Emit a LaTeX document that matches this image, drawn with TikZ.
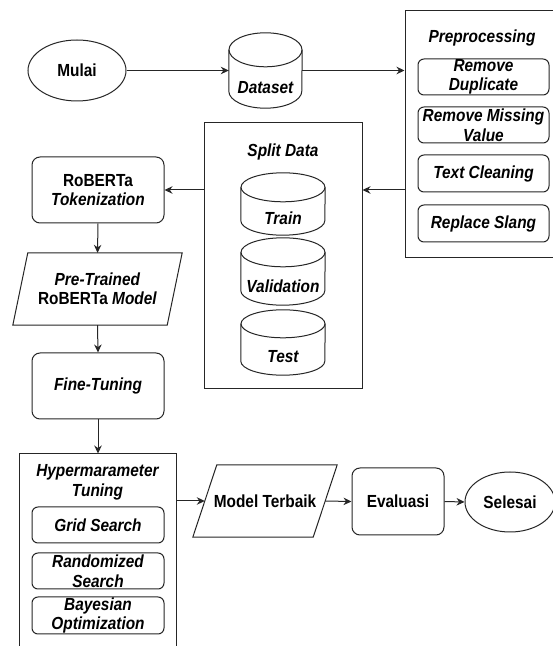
\documentclass[tikz,border=0pt]{standalone}
\usepackage{fontspec}
\setmainfont{Liberation Sans}[FakeStretch=0.88]
\usetikzlibrary{shapes.geometric,arrows.meta,calc}
\tikzset{
  ln/.style={draw=black!85, line width=1pt},
  arr/.style={draw=black!85, line width=1pt, -{Stealth[length=8pt,width=7.5pt]}},
  txt/.style={font=\fontsize{17.5}{19.5}\selectfont\bfseries, align=center, inner sep=0pt},
  itxt/.style={txt, font=\fontsize{17.5}{19.5}\selectfont\bfseries\itshape},
  rbox/.style={ln, rounded corners=8pt, txt},
  sbox/.style={ln, rounded corners=6pt, itxt},
  frame/.style={ln, inner sep=0pt},
}
\newcommand\mkcyl[7]{%
  \node[minimum width=#4pt, minimum height=#5pt, inner sep=0pt] (#1) at (#2,646-#3) {};
  \draw[ln] ([yshift=-#6pt]#1.north west) -- ([yshift=#6pt]#1.south west)
     arc[start angle=180, end angle=360, x radius=#4pt/2, y radius=#6pt]
     -- ([yshift=-#6pt]#1.north east);
  \draw[ln] ([yshift=-#6pt]#1.north) ellipse[x radius=#4pt/2, y radius=#6pt];
  \node[itxt] (#1-t) at ([yshift=-#6pt]#1.center) {#7};
}
\begin{document}
\begin{tikzpicture}[x=1pt,y=1pt]
\useasboundingbox (0,0) rectangle (553,646);
\clip (0,0) rectangle (553,646);
\fill[white] (0,0) rectangle (553,646);

% start
\node[ln, ellipse, txt, minimum width=98pt, minimum height=61pt] (mulai) at (77,646-70.5) {Mulai};

% dataset
\mkcyl{ds}{265.5}{70.5}{73}{75}{17}{Dataset}

% preprocessing
\node[frame, minimum width=152pt, minimum height=247pt] (pre) at (481,646-134.5) {};
\node[itxt] (pre-t) at (482,646-38) {Preprocessing};
\node[sbox, minimum width=131pt, minimum height=36pt] (rd) at (483.5,646-77) {Remove\\Duplicate};
\node[sbox, minimum width=131pt, minimum height=36pt] (rm) at (483.5,646-125) {Remove Missing\\Value};
\node[sbox, minimum width=131pt, minimum height=37pt] (tc) at (483.5,646-173.5) {Text Cleaning};
\node[sbox, minimum width=131pt, minimum height=37pt] (rs) at (483.5,646-223.5) {Replace Slang};

% split data
\node[frame, minimum width=158pt, minimum height=266pt] (split) at (283,646-256) {};
\node[itxt] (split-t) at (283,646-152) {Split Data};
\mkcyl{tr}{283}{204}{84}{62}{14.5}{Train}
\mkcyl{va}{283}{271.5}{84}{67}{14.5}{Validation}
\mkcyl{te}{283}{342.5}{84}{65}{14}{Test}

% left column
\node[rbox, minimum width=132pt, minimum height=66pt] (rob) at (98,646-190) {RoBERTa\\\textit{Tokenization}};
\node[txt, minimum width=169pt, minimum height=72pt] (ptm) at (97.5,646-289) {\textit{Pre-Trained}\\RoBERTa \textit{Model}};
\draw[ln] ([xshift=15pt]ptm.north west) -- (ptm.north east) -- ([xshift=-15pt]ptm.south east) -- (ptm.south west) -- cycle;
\node[rbox, itxt, minimum width=132pt, minimum height=66pt] (ft) at (98,646-386) {Fine-Tuning};

% hyperparameter tuning
\node[frame, minimum width=157pt, minimum height=246pt] (hyp) at (97.5,646-577) {};
\node[itxt] (hyp-t) at (97.5,646-482.5) {Hypermarameter\\Tuning};
\node[sbox, minimum width=132pt, minimum height=36pt] (gs) at (98,646-525) {Grid Search};
\node[sbox, minimum width=132pt, minimum height=36pt] (rsr) at (98,646-571) {Randomized\\Search};
\node[sbox, minimum width=132pt, minimum height=37pt] (bo) at (98,646-615.5) {Bayesian\\Optimization};

% bottom row
\node[txt, minimum width=144pt, minimum height=72pt] (mt) at (265,646-501) {Model Terbaik};
\draw[ln] ([xshift=24pt]mt.north west) -- (mt.north east) -- ([xshift=-24pt]mt.south east) -- (mt.south west) -- cycle;
\coordinate (mtL) at ([xshift=12pt]mt.west);
\coordinate (mtR) at ([xshift=-12pt]mt.east);
\node[rbox, minimum width=92pt, minimum height=67pt] (ev) at (398,646-501.5) {Evaluasi};
\node[ln, ellipse, txt, minimum width=90pt, minimum height=60pt] (sel) at (510,646-502) {Selesai};

% connectors
\draw[arr] (mulai.east) -- (ds.west);
\draw[arr] (ds.east) -- (pre.west |- ds.east);
\draw[arr] (pre.west |- rob.east) -- (split.east |- rob.east);
\draw[arr] (split.west |- rob.east) -- (rob.east);
\draw[arr] (rob.south) -- (ptm.north);
\draw[arr] (ptm.south) -- (ft.north);
\draw[arr] (ft.south) -- (hyp.north -| ft.south);
\draw[arr] (hyp.east |- mtL) -- (mtL);
\draw[arr] (mtR) -- (ev.west);
\draw[arr] (ev.east) -- (sel.west);
\end{tikzpicture}
\end{document}
